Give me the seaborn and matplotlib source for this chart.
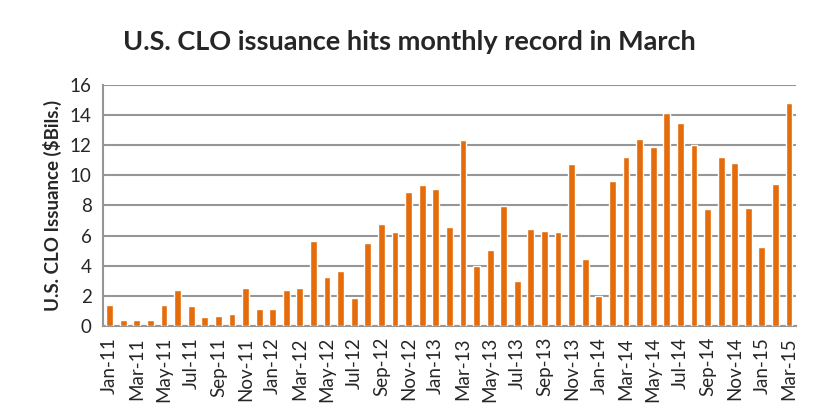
import numpy as np
import pandas as pd
import matplotlib
matplotlib.use("Agg")
import matplotlib.pyplot as plt
from matplotlib.ticker import FixedLocator
import seaborn as sns

months = pd.date_range("2011-01-01", "2015-03-01", freq="MS").strftime("%b-%y").tolist()
issuance = [1.42, 0.42, 0.42, 0.42, 1.42, 2.36, 1.29, 0.62, 0.69, 0.82, 2.49, 1.09,
            1.09, 2.36, 2.49, 5.62, 3.22, 3.62, 1.82, 5.49, 6.76, 6.22, 8.89, 9.36,
            9.09, 6.56, 12.36, 3.96, 5.02, 7.96, 2.96, 6.42, 6.29, 6.22, 10.76, 4.42,
            1.96, 9.62, 11.22, 12.42, 11.89, 14.11, 13.49, 12.02, 7.76, 11.22, 10.82, 7.82,
            5.22, 9.42, 14.82]
y_ticks = [0, 2, 4, 6, 8, 10, 12, 14, 16]

df = pd.DataFrame({"month": months, "issuance": issuance})

sns.set_style("white")
plt.rcParams["font.family"] = ["Lato", "DejaVu Sans"]
grey = "#969696"
orange = "#e46c0a"

fig = plt.figure(figsize=(8.23, 4.2), dpi=100)
ax = fig.add_axes([0.125, 0.224, 0.842, 0.574])
sns.barplot(data=df, x="month", y="issuance", color=orange, width=0.5,
            saturation=1, ax=ax, zorder=3)

ax.set_ylim(0, 16)
ax.set_yticks(y_ticks)
ax.set_xlim(-0.5, len(months) - 0.5)
ax.grid(axis="y", color=grey, linewidth=1.5, zorder=0)
ax.set_axisbelow(True)

# labels every other month, ticks on category boundaries
ax.set_xticks(range(0, len(months), 2))
ax.set_xticklabels(months[::2], rotation=90, fontsize=13.5)
ax.xaxis.set_minor_locator(FixedLocator(np.arange(-0.5, len(months), 2)))
ax.tick_params(axis="x", which="major", length=0, pad=8)
ax.tick_params(axis="x", which="minor", length=5, width=1.5, color=grey)
ax.tick_params(axis="y", length=5, width=1.5, color=grey, labelsize=13.5, pad=3)

for s in ["top", "right"]:
    ax.spines[s].set_visible(False)
for s in ["left", "bottom"]:
    ax.spines[s].set_color(grey)
    ax.spines[s].set_linewidth(1.5)

ax.set_xlabel("")
ax.set_ylabel("U.S. CLO Issuance ($Bils.)", fontsize=13.5, fontweight="bold", labelpad=6)
fig.text(0.498, 0.9, "U.S. CLO issuance hits monthly record in March",
         ha="center", va="center", fontsize=19.5, fontweight="bold")

fig.savefig("out.png", dpi=100)
